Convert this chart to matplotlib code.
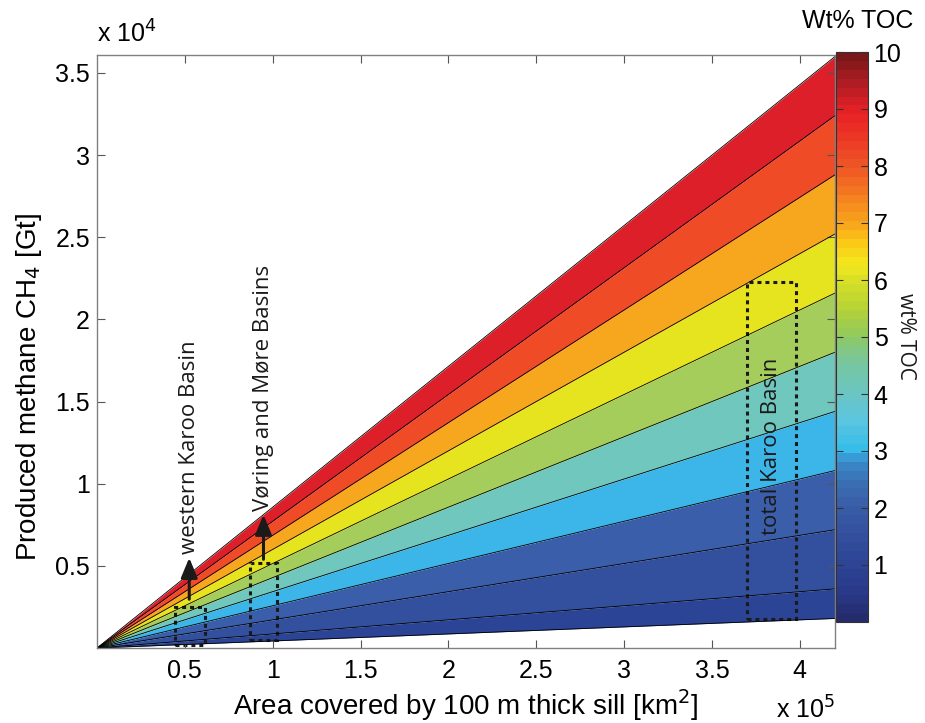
import numpy as np
import matplotlib
matplotlib.use("Agg")
import matplotlib.pyplot as plt
from matplotlib.colors import LinearSegmentedColormap, ListedColormap
from matplotlib.patches import Rectangle

# ---- data ----
toc_levels = [0.5, 1, 2, 3, 4, 5, 6, 7, 8, 9, 10]          # wt% TOC boundaries
band_colors = ["#2b4496", "#33509f", "#3b5eaa", "#3cb6e8", "#6fc7bd",
               "#a5cd5b", "#e6e31f", "#f6a71d", "#ee4b26", "#dc1f29"]
area_max = 4.2e5                                             # km^2
methane_per_area_toc = 36000.0 / (10 * 4.2e5)               # Gt per km^2 per wt%
x_ticks = [0.5e5, 1e5, 1.5e5, 2e5, 2.5e5, 3e5, 3.5e5, 4e5]
x_ticklabels = ["0.5", "1", "1.5", "2", "2.5", "3", "3.5", "4"]
y_ticks = [5000, 10000, 15000, 20000, 25000, 30000, 35000]
y_ticklabels = ["0.5", "1", "1.5", "2", "2.5", "3", "3.5"]

# basins: (name, x0, x1, y0, y1)
basins = [
    ("western Karoo Basin", 44500, 61600, 180, 2500),
    ("Vøring and Møre Basins", 86800, 102700, 490, 5170),
    ("total Karoo Basin", 370000, 397800, 1770, 22280),
]
arrows = [  # x, y_start, y_end
    (52500, 2800, 5660),
    (94750, 5230, 8280),
]

cbar_anchor_vals = [0, 0.5, 1, 1.5, 2, 2.5, 2.8, 3, 3.5, 4, 4.5, 5, 5.5, 6, 6.3, 6.7, 7, 7.5, 8, 8.5, 9, 9.5, 10]
cbar_anchor_cols = ["#252c6e", "#2a3a8c", "#2e4596", "#33509f", "#3a5ea8", "#3a74b8", "#3a8ccb",
                    "#36bdea", "#5ac5e0", "#6cc5c2", "#76c6a2", "#8fc862", "#b5d236", "#d6df26",
                    "#f3e81d", "#fbc716", "#f8a61b", "#f47f20", "#ef5a25", "#ec3b26", "#e82126",
                    "#b41c24", "#781819"]

# ---- figure ----
plt.rcParams['font.family'] = ['Liberation Sans', 'DejaVu Sans']
fig = plt.figure(figsize=(9.25, 7.23), dpi=100)
ax = fig.add_axes([97/925, 75/723, 738/925, 593/723])

x = np.array([0.0, area_max])
for i in range(len(toc_levels) - 1):
    lo = methane_per_area_toc * toc_levels[i] * x
    hi = methane_per_area_toc * toc_levels[i + 1] * x
    ax.fill_between(x, lo, hi, color=band_colors[i], linewidth=0)
for t in toc_levels:
    ax.plot(x, methane_per_area_toc * t * x, color="black", linewidth=0.6)

ax.set_xlim(0, area_max)
ax.set_ylim(0, methane_per_area_toc * 10 * area_max + 90)

ax.set_xticks(x_ticks)
ax.set_xticklabels(x_ticklabels)
ax.set_yticks(y_ticks)
ax.set_yticklabels(y_ticklabels)
ax.tick_params(direction="in", length=6, width=0.8, color="#555555",
               top=True, right=True, labelsize=18)
ax.tick_params(axis="x", pad=8)
ax.tick_params(axis="y", pad=5)
for s in ax.spines.values():
    s.set_color("#808080")
    s.set_linewidth(1.0)

ax.set_xlabel("Area covered by 100 m thick sill [km$^2$]", fontsize=20, labelpad=3)
ax.set_ylabel("Produced methane CH$_4$ [Gt]", fontsize=20)
ax.yaxis.set_label_coords(-0.072, 0.44)
ax.text(0.0, 1.012, "x 10$^4$", transform=ax.transAxes, fontsize=18, ha="left", va="bottom")
ax.text(1.0, -0.082, "x 10$^5$", transform=ax.transAxes, fontsize=18, ha="right", va="top")

ann_font = ['Open Sans', 'DejaVu Sans']
for name, x0, x1, y0, y1 in basins:
    ax.add_patch(Rectangle((x0, y0), x1 - x0, y1 - y0, fill=False, edgecolor="#1a1a1a",
                           linewidth=2.2, linestyle=(0, (1.3, 1.3))))
for xa, ys, ye in arrows:
    ax.annotate("", xy=(xa, ye), xytext=(xa, ys),
                arrowprops=dict(arrowstyle="-|>,head_length=1.2,head_width=0.5",
                                color="#1a1a1a", lw=2.2))
ax.text(arrows[0][0], arrows[0][2] + 80, basins[0][0], rotation=90, ha="center", va="bottom",
        fontsize=16, family=ann_font, color="#1a1a1a")
ax.text(arrows[1][0], arrows[1][2] + 80, basins[1][0], rotation=90, ha="center", va="bottom",
        fontsize=16, family=ann_font, color="#1a1a1a")
ax.text((basins[2][1] + basins[2][2]) / 2, 12300, basins[2][0], rotation=90, ha="center",
        va="center", fontsize=16, family=ann_font, color="#1a1a1a")

# ---- colorbar ----
base = LinearSegmentedColormap.from_list(
    "toc", [(v / 10.0, c) for v, c in zip(cbar_anchor_vals, cbar_anchor_cols)])
cmap = ListedColormap(base(np.linspace(0, 1, 64)))
cax = fig.add_axes([836/925, 101/723, 32/925, 570/723])
sm = matplotlib.cm.ScalarMappable(norm=matplotlib.colors.Normalize(0, 10), cmap=cmap)
cb = fig.colorbar(sm, cax=cax)
cb.set_ticks([1, 2, 3, 4, 5, 6, 7, 8, 9, 10])
cb.set_ticklabels(["1", "2", "3", "4", "5", "6", "7", "8", "9", "10"])
cax.tick_params(direction="in", length=5, width=0.8, color="#333333", left=True, right=True,
                labelsize=18, pad=4)
cb.outline.set_linewidth(0.8)
cb.outline.set_edgecolor("#333333")
fig.text(913/925, 1 - 21/723, "Wt% TOC", ha="right", va="center", fontsize=18)
fig.text(905/925, 1 - 336/723, "wt% TOC", rotation=270, ha="center", va="center",
         fontsize=15, family=ann_font, color="#1a1a1a")

fig.savefig("out.png", dpi=100)
